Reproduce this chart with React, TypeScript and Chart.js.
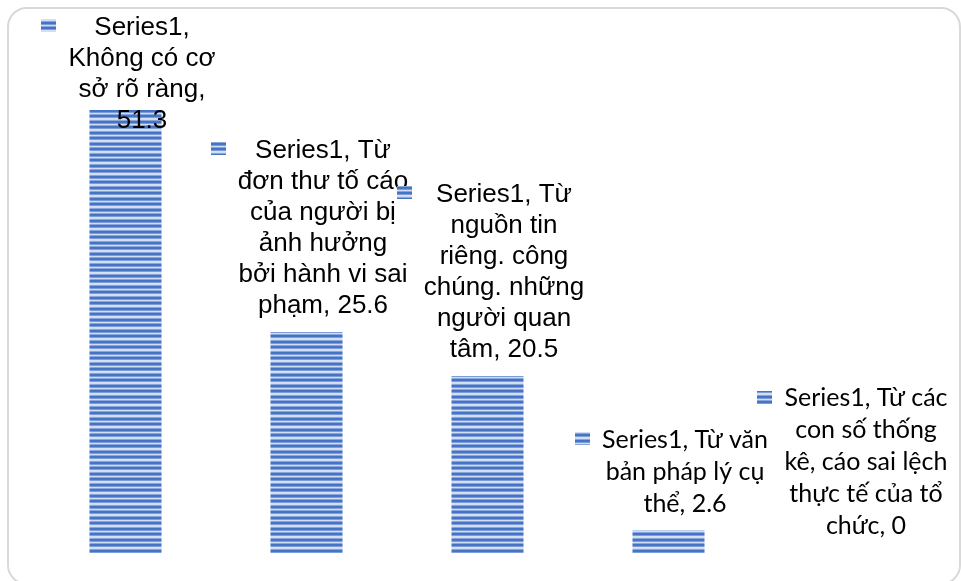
import React, { useEffect, useRef } from "react";
import { Chart, registerables } from "chart.js";

Chart.register(...registerables);

// ---- data ----
const seriesName = "Series1";
const categories = [
  "Không có cơ sở rõ ràng",
  "Từ đơn thư tố cáo của người bị ảnh hưởng bởi hành vi sai phạm",
  "Từ nguồn tin riêng. công chúng. những người quan tâm",
  "Từ văn bản pháp lý cụ thể",
  "Từ các con số thống kê, cáo sai lệch thực tế của tổ chức",
];
const values = [51.3, 25.6, 20.5, 2.6, 0];
// how many words go on each wrapped line of each data label
const wordsPerLine = [
  [1, 3, 3, 1],
  [2, 4, 3, 2, 4, 2],
  [2, 2, 2, 2, 2, 2],
  [3, 4, 2],
  [3, 3, 4, 4, 2],
];

const W = 961;
const H = 581;

const ARIAL = '"Liberation Sans", Arial, sans-serif';
const CALIBRI = 'Lato, "Open Sans", sans-serif';
const labelStyles = [
  { family: ARIAL, size: 26, pitch: 31 },
  { family: ARIAL, size: 26, pitch: 31 },
  { family: ARIAL, size: 26, pitch: 31 },
  { family: CALIBRI, size: 25, pitch: 32 },
  { family: CALIBRI, size: 25, pitch: 32 },
];

function makeStripePattern(ctx: CanvasRenderingContext2D): CanvasPattern | string {
  const c = document.createElement("canvas");
  const rows = [
    "#4472c4", "#4674c6", "#7d9dd8", "#d2dcf0", "#8aa7dc",
    "#4472c4", "#4674c6", "#7d9dd8", "#d6e0f2", "#d2dcf0", "#8aa7dc",
  ];
  c.width = 4;
  c.height = rows.length;
  const p = c.getContext("2d")!;
  rows.forEach((col, i) => {
    p.fillStyle = col;
    p.fillRect(0, i, 4, 1);
  });
  return ctx.createPattern(c, "repeat") || "#4472c4";
}

export default function App() {
  const ref = useRef<HTMLCanvasElement | null>(null);

  useEffect(() => {
    const canvas = ref.current;
    if (!canvas) return;
    const ctx0 = canvas.getContext("2d")!;
    const pattern = makeStripePattern(ctx0);

    const labelPlugin = {
      id: "dataLabelsWithKeys",
      afterDatasetsDraw(chart: any) {
        const ctx: CanvasRenderingContext2D = chart.ctx;
        const meta = chart.getDatasetMeta(0);
        ctx.save();
        meta.data.forEach((bar: any, i: number) => {
          const words = `${seriesName}, ${categories[i]}, ${values[i]}`.split(" ");
          const lines: string[] = [];
          let k = 0;
          for (const n of wordsPerLine[i]) {
            lines.push(words.slice(k, k + n).join(" "));
            k += n;
          }
          const st = labelStyles[i];
          ctx.font = `${st.size}px ${st.family}`;
          const maxW = Math.max(...lines.map((l) => ctx.measureText(l).width));
          const keyW = 15;
          const keyH = 13;
          const gap = 12;
          const blockW = keyW + gap + maxW;
          const left = bar.x + 3 - blockW / 2;
          const textCx = left + keyW + gap + maxW / 2;
          const last = bar.y - 19;
          let first = last - (lines.length - 1) * st.pitch;
          if (first < 35) first = 35;
          ctx.fillStyle = "#000000";
          ctx.textAlign = "center";
          ctx.textBaseline = "alphabetic";
          lines.forEach((l, j) => ctx.fillText(l, textCx, first + j * st.pitch));
          ctx.fillStyle = pattern as any;
          ctx.fillRect(Math.round(left), Math.round(first - 0.36 * st.size - keyH / 2), keyW, keyH);
        });
        ctx.restore();
      },
    };

    const chart = new Chart(canvas, {
      type: "bar",
      data: {
        labels: categories,
        datasets: [
          {
            label: seriesName,
            data: values,
            backgroundColor: pattern as any,
            borderWidth: 0,
            barPercentage: 0.398,
            categoryPercentage: 1,
          },
        ],
      },
      options: {
        responsive: false,
        animation: false,
        layout: { padding: { left: 35, right: 21, top: 35, bottom: 28 } },
        scales: {
          x: { display: false },
          y: { display: false, min: 0, max: 60 },
        },
        plugins: {
          legend: { display: false },
          tooltip: { enabled: false },
        },
      },
      plugins: [labelPlugin],
    });
    return () => chart.destroy();
  }, []);

  return (
    <div style={{ position: "fixed", left: 0, top: 0, width: W, height: H, overflow: "hidden", background: "#ffffff" }}>
      <div
        style={{
          position: "absolute",
          left: 7,
          top: 7,
          width: 954,
          height: 578,
          border: "2px solid #d9d9d9",
          borderRadius: 20,
          boxSizing: "border-box",
          background: "#ffffff",
        }}
      />
      <canvas ref={ref} width={W} height={H} style={{ position: "absolute", left: 0, top: 0, width: W, height: H }} />
    </div>
  );
}
